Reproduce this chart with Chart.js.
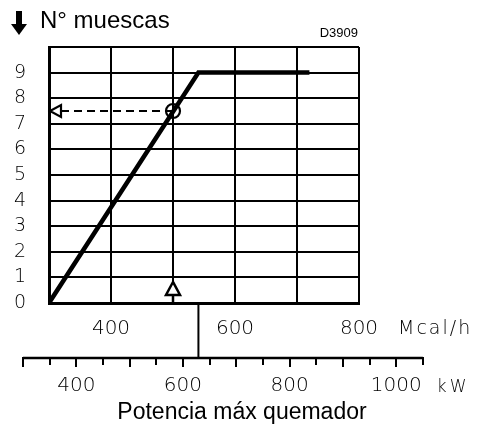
<!DOCTYPE html>
<html>
<head>
<meta charset="utf-8">
<script src="https://cdn.jsdelivr.net/npm/chart.js@4/dist/chart.umd.min.js"></script>
<style>
html,body{margin:0;padding:0;background:#fff;}
canvas{display:block;}
</style>
</head>
<body>
<canvas id="c" width="484" height="426"></canvas>
<script>
// ---- data ----
const mcalMin = 300, mcalMax = 800;           // Mcal/h axis range
const mcalLabels = [400, 600, 800];            // labelled Mcal/h ticks
const notchMin = 0, notchMax = 10;             // N° muescas range
const notchLabels = [0,1,2,3,4,5,6,7,8,9];     // labelled notch ticks
const curveX = [300, 541, 720];                // Mcal/h
const curveY = [0, 9, 9];                      // N° muescas
const readX = [500];                           // example reading (Mcal/h)
const readY = [7.5];                           // example reading (notches)
const kwMin = 300, kwMax = 1050, kwStep = 50;  // kW scale
const kwLabels = [400, 600, 800, 1000];
const kwToMcal = 0.86;                         // 1 kW = 0.86 Mcal/h
const title = 'N° muescas';
const code = 'D3909';
const xUnit = 'Mcal/h';
const kwUnit = 'kW';
const xTitle = 'Potencia máx quemador';

const lightFont = "'DejaVu Sans'";
const curve = curveX.map((x,i)=>({x, y: curveY[i]}));
const reading = readX.map((x,i)=>({x, y: readY[i]}));

const decor = {
  id: 'decor',
  afterDatasetsDraw(chart){
    const ctx = chart.ctx, xs = chart.scales.x, ys = chart.scales.y;
    ctx.save();
    ctx.strokeStyle = '#000';
    // dashed reading line arrowhead (left end)
    const ax = xs.getPixelForValue(mcalMin), ay = ys.getPixelForValue(readY[0]);
    ctx.lineWidth = 2.2; ctx.setLineDash([]);
    ctx.beginPath();
    ctx.moveTo(ax+1, ay); ctx.lineTo(ax+12, ay-6); ctx.lineTo(ax+12, ay+6); ctx.closePath();
    ctx.fillStyle = '#fff'; ctx.fill(); ctx.stroke();
    // upward arrow at reading x
    const ux = xs.getPixelForValue(readX[0]), uy = ys.getPixelForValue(0);
    ctx.lineWidth = 2.5;
    ctx.beginPath(); ctx.moveTo(ux, uy); ctx.lineTo(ux, uy-8); ctx.stroke();
    ctx.beginPath();
    ctx.moveTo(ux, uy-21); ctx.lineTo(ux-7, uy-8); ctx.lineTo(ux+7, uy-8); ctx.closePath();
    ctx.fillStyle = '#fff'; ctx.fill(); ctx.stroke();
    ctx.restore();
  },
  afterDraw(chart){
    const ctx = chart.ctx, xs = chart.scales.x;
    const ca = chart.chartArea;
    ctx.save();
    ctx.strokeStyle = '#000'; ctx.fillStyle = '#000';
    // kW axis
    const kwY = ca.bottom + 55;
    const px = kw => xs.getPixelForValue(kw * kwToMcal);
    // vertical drop from the curve break to kW axis
    ctx.lineWidth = 2;
    const bx = xs.getPixelForValue(curveX[1]);
    ctx.beginPath(); ctx.moveTo(bx, ca.bottom); ctx.lineTo(bx, kwY); ctx.stroke();
    ctx.lineWidth = 2.5;
    ctx.beginPath(); ctx.moveTo(px(kwMin), kwY); ctx.lineTo(px(kwMax), kwY); ctx.stroke();
    ctx.lineWidth = 2;
    for (let k = kwMin; k <= kwMax; k += kwStep){
      const x = Math.round(px(k));
      const len = (k % 100 === 0) ? 9 : 7;
      ctx.beginPath(); ctx.moveTo(x, kwY-1); ctx.lineTo(x, kwY+len); ctx.stroke();
    }
    ctx.font = "200 20px " + lightFont;
    ctx.textAlign = 'center'; ctx.textBaseline = 'middle';
    kwLabels.forEach(k => ctx.fillText(String(k), px(k), kwY + 28));
    ctx.textAlign = 'left';
    ctx.font = "200 17px " + lightFont;
    ctx.letterSpacing = '3px';
    ctx.fillText(kwUnit, px(kwMax) + 14, kwY + 30);
    // Mcal/h unit
    ctx.font = "200 19px " + lightFont;
    ctx.letterSpacing = '2px';
    ctx.fillText(xUnit, xs.getPixelForValue(mcalMax) + 39, ca.bottom + 26);
    ctx.letterSpacing = '0px';
    // axis title
    ctx.font = "23px 'Liberation Sans', Arial, sans-serif";
    ctx.textAlign = 'center';
    ctx.fillText(xTitle, 242, 413);
    // top title with arrow
    ctx.textAlign = 'left';
    ctx.font = "24px 'Liberation Sans', Arial, sans-serif";
    ctx.fillText(title, 40, 21);
    ctx.beginPath();
    ctx.rect(16, 11, 6, 14); ctx.fill();
    ctx.beginPath(); ctx.moveTo(11, 24); ctx.lineTo(27, 24); ctx.lineTo(19, 35); ctx.closePath(); ctx.fill();
    // drawing code
    ctx.font = "13px 'Liberation Sans', Arial, sans-serif";
    ctx.textAlign = 'right';
    ctx.fillText(code, 358, 33);
    ctx.restore();
  }
};

new Chart(document.getElementById('c'), {
  type: 'scatter',
  data: {
    datasets: [
      { data: curve, showLine: true, borderColor: '#000', borderWidth: 4.5,
        borderCapStyle: 'butt', pointRadius: 0, order: 3 },
      { data: [reading[0], {x: mcalMin + 4, y: readY[0]}], showLine: true, borderColor: '#000',
        borderWidth: 2.2, borderDash: [8, 5], pointRadius: 0, order: 2 },
      { data: reading, showLine: false, pointStyle: 'circle', pointRadius: 7,
        pointBorderWidth: 2.2, pointBorderColor: '#000', pointBackgroundColor: 'rgba(0,0,0,0)', order: 1 }
    ]
  },
  options: {
    responsive: false, devicePixelRatio: 1, animation: false,
    layout: { padding: { left: 0, right: 125, top: 47, bottom: 0 } },
    plugins: { legend: { display: false }, tooltip: { enabled: false } },
    scales: {
      x: {
        type: 'linear', min: mcalMin, max: mcalMax,
        afterFit: s => { s.height = 123; },
        ticks: { stepSize: 100, padding: 14, color: '#000', maxRotation: 0, autoSkip: false,
          font: { family: lightFont, size: 20, weight: '200' },
          callback: v => mcalLabels.includes(v) ? String(v) : '' },
        grid: { color: '#000', lineWidth: 2, drawTicks: false },
        border: { color: '#000', width: 3 }
      },
      y: {
        type: 'linear', min: notchMin, max: notchMax,
        afterFit: s => { s.width = 49; },
        ticks: { stepSize: 1, padding: 23, color: '#000', autoSkip: false,
          font: { family: lightFont, size: 19, weight: '200' },
          callback: v => notchLabels.includes(v) ? String(v) : '' },
        grid: { color: '#000', lineWidth: 2, drawTicks: false },
        border: { color: '#000', width: 3 }
      }
    }
  },
  plugins: [decor]
});
</script>
</body>
</html>
